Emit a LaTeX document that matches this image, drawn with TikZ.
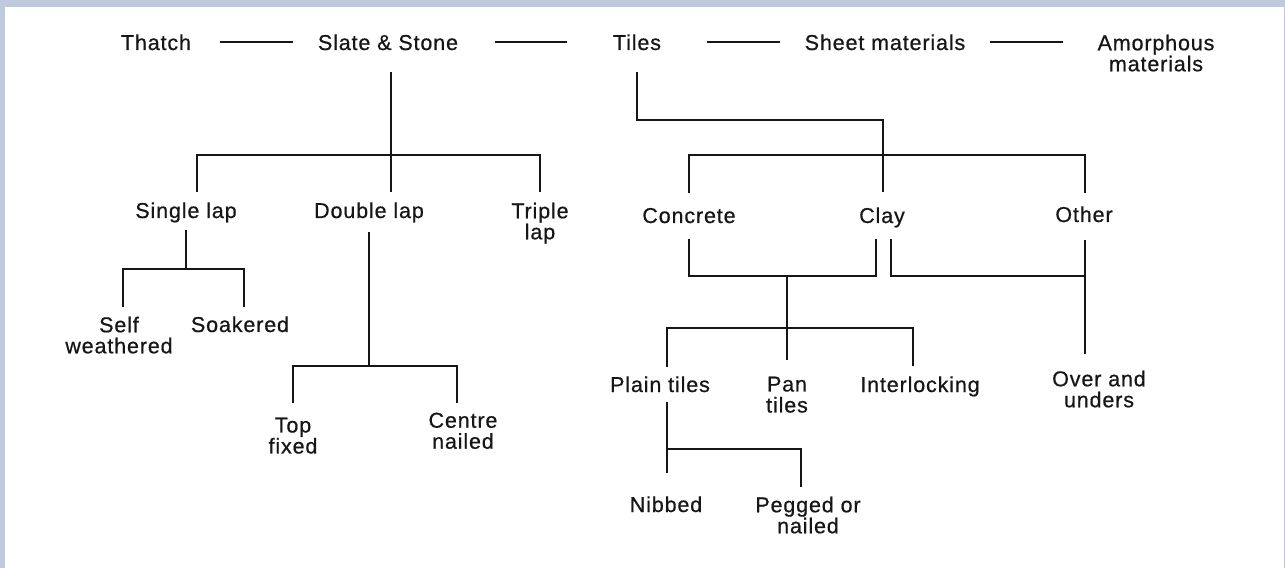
\documentclass[tikz,border=0pt]{standalone}
\usepackage{fontspec}
\setmainfont{Liberation Sans}[LetterSpace=4, FakeBold=0.6]
\definecolor{frame}{HTML}{BFCADF}
\definecolor{ink}{HTML}{161616}
\begin{document}
\begin{tikzpicture}[x=1bp,y=-1bp,
  lbl/.style={inner sep=0pt, anchor=base, text=ink, text height=15.5bp, text depth=0pt,
    font=\fontsize{21.5bp}{21bp}\selectfont},
  mlbl/.style={inner sep=0pt, anchor=north, align=center, text=ink,
    font=\fontsize{21.5bp}{21bp}\selectfont},
  wire/.style={draw=ink, line width=2bp}]
\fill[frame] (0,0) rectangle (1285,568);
\fill[white] (5,7) rectangle (1284,568);
\useasboundingbox (0,0) rectangle (1285,568);

% top row
\node[lbl] (thatch) at (156,50) {Thatch};
\node[lbl] (slate) at (388,50) {Slate \& Stone};
\node[lbl] (tiles) at (637,50) {Tiles};
\node[lbl] (sheet) at (885,50) {Sheet materials};
\node[mlbl] (amorph) at (1156,34.5) {Amorphous\\materials};

% second row
\node[lbl] (single) at (186,218) {Single lap};
\node[lbl] (double) at (369,218) {Double lap};
\node[mlbl] (triple) at (540,202.5) {Triple\\lap};
\node[lbl] (concrete) at (689,223) {Concrete};
\node[lbl] (clay) at (882,223) {Clay};
\node[lbl] (other) at (1084,222) {Other};

% third level
\node[mlbl] (selfw) at (119,316.5) {Self\\weathered};
\node[lbl] (soak) at (240,332) {Soakered};
\node[mlbl] (topf) at (293,417.5) {Top\\fixed};
\node[mlbl] (centre) at (463,412.5) {Centre\\nailed};
\node[lbl] (plain) at (660,392) {Plain tiles};
\node[mlbl] (pan) at (787,376.5) {Pan\\tiles};
\node[lbl] (inter) at (920,392) {Interlocking};
\node[mlbl] (overu) at (1099,370.5) {Over and\\unders};
\node[lbl] (nibbed) at (666,512) {Nibbed};
\node[mlbl] (pegged) at (808,496.5) {Pegged or\\nailed};

% junction coordinates
\coordinate (d1a) at (220,43); \coordinate (d1b) at (293,43);
\coordinate (d2a) at (495,43); \coordinate (d2b) at (567,43);
\coordinate (d3a) at (707,43); \coordinate (d3b) at (780,43);
\coordinate (d4a) at (990,43); \coordinate (d4b) at (1063,43);
\coordinate (sJ) at (391,155); \coordinate (sL) at (197,155); \coordinate (sR) at (540,155);
\coordinate (tJ) at (637,120); \coordinate (tK) at (883,120);
\coordinate (cL) at (689,155); \coordinate (cR) at (1085,155);
\coordinate (slJ) at (186,269); \coordinate (slL) at (123,269); \coordinate (slR) at (244,269);
\coordinate (dJ) at (369,366); \coordinate (dL) at (293,366); \coordinate (dR) at (457,366);
\coordinate (kJ) at (787,276); \coordinate (kL) at (689,276); \coordinate (kR) at (876,276);
\coordinate (oJ) at (891,276); \coordinate (oR) at (1085,276);
\coordinate (pL) at (667,328); \coordinate (pR) at (913,328);
\coordinate (nL) at (667,449); \coordinate (nR) at (801,449);

% top row dashes
\draw[wire] (thatch.east -| d1a) -- (slate.west -| d1b);
\draw[wire] (slate.east -| d2a) -- (tiles.west -| d2b);
\draw[wire] (tiles.east -| d3a) -- (sheet.west -| d3b);
\draw[wire] (sheet.east -| d4a) -- (sheet.east -| d4b);

% slate & stone
\draw[wire, shorten <=22bp, shorten >=10.5bp] (slate.south -| sJ) -- (double.north -| sJ);
\draw[wire, shorten <=10.5bp, shorten >=10.5bp] (single.north -| sL) -- (sL) -- (sR) -- (triple.north -| sR);

% tiles
\draw[wire, shorten <=22bp, shorten >=15.5bp] (tiles.south -| tJ) -- (tJ) -- (tK) -- (clay.north -| tK);
\draw[wire, shorten <=14.5bp, shorten >=13.5bp] (concrete.north -| cL) -- (cL) -- (cR) -- (other.north -| cR);

% single lap
\draw[wire, shorten <=12bp] (single.south -| slJ) -- (slJ);
\draw[wire, shorten <=9.5bp, shorten >=9.5bp] (selfw.north -| slL) -- (slL) -- (slR) -- (soak.north -| slR);

% double lap
\draw[wire, shorten <=14bp] (double.south -| dJ) -- (dJ);
\draw[wire, shorten <=14.5bp, shorten >=9.5bp] (topf.north -| dL) -- (dL) -- (dR) -- (centre.north -| dR);

% concrete / clay / other
\draw[wire, shorten <=16bp, shorten >=16bp] (concrete.south -| kL) -- (kL) -- (kR) -- (clay.south -| kR);
\draw[wire, shorten <=16bp] (clay.south -| oJ) -- (oJ) -- (oR);
\draw[wire, shorten <=18bp, shorten >=16.5bp] (other.south -| oR) -- (overu.north -| oR);
\draw[wire, shorten >=16.5bp] (kJ) -- (pan.north -| kJ);
\draw[wire, shorten <=9.5bp, shorten >=10.5bp] (plain.north -| pL) -- (pL) -- (pR) -- (inter.north -| pR);

% plain tiles
\draw[wire, shorten <=10bp, shorten >=23.5bp] (plain.south -| nL) -- (nibbed.north -| nL);
\draw[wire, shorten >=9.5bp] (nL) -- (nR) -- (pegged.north -| nR);
\end{tikzpicture}
\end{document}
